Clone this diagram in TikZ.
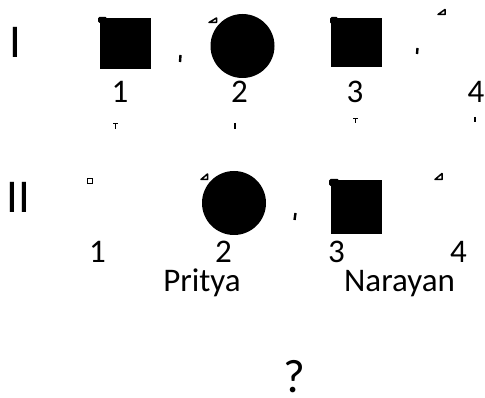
\documentclass[tikz,border=0pt]{standalone}
\usepackage{fontspec}
\setmainfont{Carlito}

\begin{document}
\begin{tikzpicture}[x=1pt,y=-1pt,
  male/.style={rectangle,fill=black,minimum size=51pt,inner sep=0pt},
  female/.style={circle,fill=black,minimum size=64pt,inner sep=0pt},
  num/.style={font=\fontsize{33}{40}\selectfont,inner sep=0pt,anchor=base,
    text height=0.64em,text depth=0pt},
  personname/.style={num,text depth=0.2em},
  gen/.style={font=\fontsize{47}{56}\selectfont,inner sep=0pt,anchor=base,
    text height=0.65em,text depth=0pt},
  tab/.style={fill=black,rounded corners=1.5pt},
  tri/.style={draw=black,line width=1.5pt,line join=round},
  tick/.style={line width=2.4pt}]
\useasboundingbox (0,0) rectangle (485,398);

% generation I
\node[gen] (genI) at (15,58) {I};
\node[male] (I1) at (125.5,43.5) {};
\node[female] (I2) at (242.5,46) {};
\node[male,minimum height=49pt] (I3) at (356.5,42.5) {};

\node[num] (nI1) at (120,103) {1};
\node[num] (nI2) at (239.5,103) {2};
\node[num] (nI3) at (355,103) {3};
\node[num] (nI4) at (476,103) {4};

% leftover marks round generation I
\fill[tab] (98,17) rectangle (107,23);
\fill[tab] (330,17) rectangle (338,24);
\draw[tri] (209,22.5) -- (216.5,18) -- (216.5,22.5) -- cycle;
\draw[tri] (438,14.5) -- (445,9.5) -- (445,14.5) -- cycle;
\draw[tick] (180.5,55) -- (180,62);
\draw[tick] (417.5,48) -- (417,54);

\draw[line width=1.6pt] (113,123.5) -- (118,123.5) (115.5,123.5) -- (115.5,129);
\draw[line width=2pt] (235,123) -- (235,129);
\draw[line width=1.6pt] (353,118.5) -- (358,118.5) (355.5,118.5) -- (355.5,123);
\draw[line width=2pt] (475,117) -- (475,122);

% generation II
\node[gen] (genII) at (18.5,213) {II};
\node[female] (II2) at (234,203) {};
\node[male,minimum height=54pt] (II3) at (356.5,207.5) {};

\node[num] (nII1) at (97.5,263) {1};
\node[num] (nII2) at (223.5,263) {2};
\node[num] (nII3) at (336.5,263) {3};
\node[num] (nII4) at (458.5,263) {4};

\node[personname] (pritya) at (202,291) {Pritya};
\node[personname] (narayan) at (399.5,291) {Narayan};

% leftover marks round generation II
\draw[line width=1.5pt] (87.5,178.5) rectangle (92.5,183.5);
\draw[tri] (201,179.5) -- (207.5,174) -- (207.5,179.5) -- cycle;
\draw[tri] (435,179.5) -- (442,173.5) -- (442,179.5) -- cycle;
\fill[tab] (329,179) rectangle (339,186);
\draw[tick] (295.5,213) -- (294.5,220);

% offspring
\node[gen] (child) at (294.5,392) {?};
\end{tikzpicture}
\end{document}
